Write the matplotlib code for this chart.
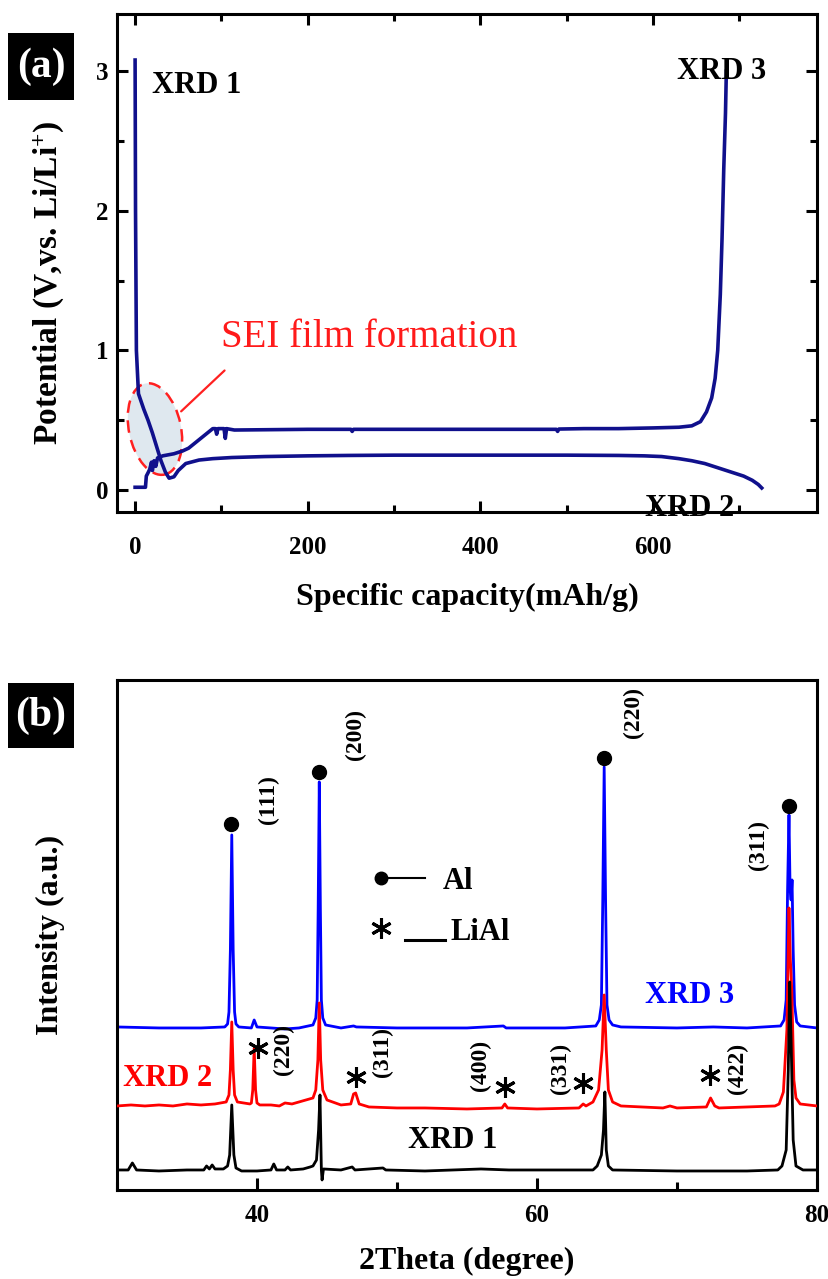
import matplotlib
matplotlib.use('Agg')
import matplotlib.pyplot as plt
from matplotlib.patches import Ellipse, Rectangle
from matplotlib.transforms import ScaledTranslation
from matplotlib.ticker import MultipleLocator

plt.rcParams['font.family'] = ['Liberation Serif', 'DejaVu Serif']
plt.rcParams['font.weight'] = 'bold'
plt.rcParams['mathtext.fontset'] = 'custom'
plt.rcParams['mathtext.rm'] = 'Liberation Serif:bold'
plt.rcParams['mathtext.default'] = 'rm'

# ---------------- Panel (a) data: voltage profile ----------------
discharge_cap = [0, 0.5, 1.5, 3.9, 10, 15, 20, 25, 30, 35, 39.4, 45, 50, 58.7, 74, 90, 112,
                 150, 200, 248, 300, 400, 500, 560, 590, 610, 630, 645, 660, 675, 690,
                 705, 715, 722, 726]
discharge_v = [3.08, 2.0, 1.0, 0.69, 0.58, 0.50, 0.41, 0.31, 0.21, 0.13, 0.085, 0.095, 0.14,
               0.19, 0.215, 0.225, 0.233, 0.24, 0.245, 0.248, 0.25, 0.25, 0.25, 0.248, 0.245,
               0.24, 0.225, 0.21, 0.19, 0.16, 0.13, 0.10, 0.07, 0.04, 0.015]

charge_cap = [0, 12, 13, 15.5, 17, 19, 20, 22, 24, 26, 32, 45, 55, 62, 70, 82, 90, 93, 94.5,
              96, 103, 104.5, 106, 115, 200, 250, 251.5, 253, 400, 488, 489.5, 491, 520, 560,
              600, 630, 645, 655, 662, 668, 672, 675, 678, 680, 682, 684, 685]
charge_v = [0.02, 0.02, 0.10, 0.13, 0.15, 0.20, 0.14, 0.21, 0.17, 0.23, 0.245, 0.26, 0.28,
            0.30, 0.34, 0.40, 0.44, 0.44, 0.40, 0.44, 0.44, 0.37, 0.44, 0.43, 0.435, 0.435,
            0.42, 0.435, 0.435, 0.435, 0.42, 0.437, 0.44, 0.44, 0.445, 0.45, 0.46, 0.49, 0.56,
            0.66, 0.80, 1.00, 1.40, 1.80, 2.30, 2.70, 3.00]

# ---------------- Panel (b) data: XRD patterns (2theta, intensity a.u.) ----------------
xrd1_2theta = [30.0, 30.8, 31.1, 31.4, 33.0, 35.0, 36.2, 36.4, 36.6, 36.8, 37.0, 37.6, 37.9,
               38.05, 38.2, 38.35, 38.5, 38.9, 40.0, 41.0, 41.2, 41.4, 42.0, 42.2, 42.4, 43.3,
               43.8, 44.0, 44.25, 44.4, 44.5, 44.6, 44.65, 44.75, 46.0, 46.8, 47.0, 49.0, 49.2,
               52.0, 56.0, 58.0, 62.0, 64.0, 64.3, 64.6, 64.75, 64.85, 64.95, 65.1, 65.4, 70.0,
               75.0, 77.2, 77.5, 77.8, 77.95, 78.05, 78.15, 78.3, 78.5, 79.0, 80.0]
xrd1_int = [20, 20, 27, 20, 19, 20, 20, 24, 21, 25, 21, 21, 24,
            35, 85, 35, 22, 19, 19, 20, 26, 20, 20, 23, 20, 21,
            23, 24, 30, 60, 95, 20, 10, 21, 20, 23, 20, 22, 20,
            19, 21, 20, 20, 20, 24, 35, 60, 98, 40, 24, 20, 19,
            19, 20, 24, 40, 120, 208, 150, 50, 24, 20, 20]

xrd2_2theta = [30.0, 31.0, 32.0, 33.0, 34.0, 35.0, 36.0, 37.0, 37.8, 38.0, 38.1, 38.2, 38.3,
               38.4, 38.6, 39.5, 39.6, 39.7, 39.8, 39.9, 40.0, 40.2, 41.0, 41.6, 42.0, 42.5,
               43.0, 43.5, 44.0, 44.2, 44.35, 44.45, 44.55, 44.7, 45.0, 46.0, 46.7, 46.9, 47.05,
               47.3, 48.0, 50.0, 52.0, 55.0, 57.5, 57.7, 57.9, 60.0, 63.0, 63.3, 63.5, 64.0,
               64.4, 64.65, 64.8, 64.95, 65.1, 65.4, 66.0, 69.0, 69.5, 70.0, 72.1, 72.4, 72.7,
               73.0, 77.0, 77.3, 77.6, 77.85, 78.0, 78.1, 78.2, 78.35, 78.5, 78.8, 80.0]
xrd2_int = [84, 85, 84, 85, 84, 86, 85, 86, 88, 95, 120, 168, 120,
            95, 88, 86, 87, 100, 142, 100, 87, 85, 85, 84, 87, 86,
            88, 90, 92, 100, 130, 187, 130, 100, 90, 85, 86, 96, 97,
            86, 83, 82, 82, 81, 82, 86, 82, 81, 82, 86, 84, 88,
            100, 140, 195, 140, 100, 88, 84, 82, 84, 82, 83, 92, 84,
            82, 84, 86, 98, 160, 282, 230, 200, 110, 92, 86, 84]

xrd3_2theta = [30.0, 33.0, 36.0, 37.7, 37.9, 38.0, 38.1, 38.2, 38.3, 38.4, 38.5, 38.7, 39.6,
               39.8, 40.0, 41.0, 42.0, 43.0, 44.0, 44.2, 44.3, 44.37, 44.45, 44.53, 44.6, 44.7,
               44.9, 46.0, 46.9, 47.1, 50.0, 55.0, 57.6, 57.8, 62.0, 64.2, 64.45, 64.6, 64.7,
               64.8, 64.9, 65.0, 65.15, 65.4, 66.0, 70.0, 72.6, 75.0, 77.4, 77.65, 77.8, 77.9,
               78.0, 78.08, 78.15, 78.22, 78.3, 78.4, 78.55, 78.8, 80.0]
xrd3_int = [163, 162, 162, 163, 166, 178, 240, 355, 240, 178, 166, 163, 162,
            170, 163, 162, 161, 162, 165, 172, 190, 280, 408, 280, 190, 172,
            165, 162, 164, 163, 162, 162, 164, 162, 162, 164, 170, 185, 290,
            423, 290, 185, 170, 165, 163, 162, 163, 162, 164, 170, 190, 300,
            375, 300, 290, 310, 240, 185, 168, 164, 162]

al_peak_2theta = [38.15, 44.4, 64.8, 78.0]
al_marker_int = [366, 418, 432, 384]
al_hkl = ['(111)', '(200)', '(220)', '(311)']
al_hkl_x = [40.8, 47.0, 66.9, 75.8]
al_hkl_y = [390, 455, 477, 345]

lial_star_x = [40.07, 47.07, 57.71, 63.29, 72.36]
lial_star_y = [142, 113, 103, 107, 115]
lial_hkl = ['(220)', '(311)', '(400)', '(331)', '(422)']
lial_hkl_x = [41.86, 48.93, 55.93, 61.71, 74.29]
lial_hkl_y = [140, 138, 125, 122, 122]

# ---------------- Figure ----------------
fig = plt.figure(figsize=(8.29, 12.79), dpi=100)
axa = fig.add_axes([0.1411, 0.5997, 0.8444, 0.3894])
axb = fig.add_axes([0.1411, 0.0696, 0.8444, 0.3988])

navy = '#10108c'
axa.plot(discharge_cap, discharge_v, color=navy, lw=2.6, zorder=3, solid_joinstyle='round')
axa.plot(charge_cap, charge_v, color=navy, lw=2.6, zorder=3, solid_joinstyle='round')
axa.set_xlim(-21, 790)
axa.set_ylim(-0.157, 3.41)
axa.xaxis.set_major_locator(MultipleLocator(200))
axa.xaxis.set_minor_locator(MultipleLocator(100))
axa.yaxis.set_major_locator(MultipleLocator(1))
axa.yaxis.set_minor_locator(MultipleLocator(0.5))
axa.tick_params(which='both', direction='in', top=True, right=True, width=2.2,
                labelsize=18)
axa.tick_params(which='major', length=8)
axa.tick_params(which='minor', length=5)
axa.tick_params(axis='x', pad=17)
axa.tick_params(axis='y', pad=6)
for s in axa.spines.values():
    s.set_linewidth(2.2)

axa.set_xlabel('Specific capacity(mAh/g)', fontsize=23, fontweight='bold', va='center')
axa.xaxis.set_label_coords(0.5, -0.172)
axa.set_ylabel('Potential (V,vs. Li/Li$^{+}$)', fontsize=24, fontweight='bold',
               va='center', ha='center')
axa.yaxis.set_label_coords(-0.098, 0.46)

axa.text(20, 2.9, 'XRD 1', fontsize=22, fontweight='bold', va='center', ha='left')
axa.text(628, 3.0, 'XRD 3', fontsize=22, fontweight='bold', va='center', ha='left')
axa.text(591, -0.13, 'XRD 2', fontsize=22, fontweight='bold', va='center', ha='left')
axa.text(100, 1.09, 'SEI film formation', fontsize=28, fontweight='normal', color='#ff1a1a',
         va='center', ha='left')

ell = Ellipse((0, 0), 0.52, 0.93, angle=12, facecolor='#dfe8ef', edgecolor='#ff2020',
              lw=1.8, ls=(0, (5, 3)), zorder=2,
              transform=fig.dpi_scale_trans + ScaledTranslation(23, 0.437, axa.transData))
axa.add_artist(ell)
axa.annotate('', xy=(51, 0.55), xytext=(106, 0.87),
             arrowprops=dict(arrowstyle='-', color='#ff2020', lw=1.6))

# Panel (b)
axb.plot(xrd3_2theta, xrd3_int, color='#0000ff', lw=2.0, zorder=2)
axb.plot(xrd2_2theta, xrd2_int, color='#ff0000', lw=2.0, zorder=3)
axb.plot(xrd1_2theta, xrd1_int, color='black', lw=2.0, zorder=4)
axb.plot(al_peak_2theta, al_marker_int, 'o', color='black', ms=10, zorder=5)
for x, y, t in zip(al_hkl_x, al_hkl_y, al_hkl):
    axb.text(x, y, t, rotation=90, fontsize=17, fontweight='bold', ha='center', va='center')
axb.plot(lial_star_x, lial_star_y, ls='none', marker=(6, 2, 0), color='black', ms=15,
         mew=2.2, zorder=5)
for x, y, t in zip(lial_hkl_x, lial_hkl_y, lial_hkl):
    axb.text(x, y, t, rotation=90, fontsize=17, fontweight='bold', ha='center', va='center')

# key
axb.plot([48.86], [312], 'o', color='black', ms=9)
axb.plot([49.36, 52.0], [312, 312], color='black', lw=1.5)
axb.text(53.3, 308, 'Al', fontsize=22, fontweight='bold', ha='left', va='center')
axb.plot([48.86], [262], ls='none', marker=(6, 2, 0), color='black', ms=15, mew=2.2)
axb.plot([50.57, 53.43], [250, 250], color='black', lw=2.2)
axb.text(53.8, 257, 'LiAl', fontsize=22, fontweight='bold', ha='left', va='center')

axb.text(67.7, 194, 'XRD 3', fontsize=22, fontweight='bold', color='#0000ff', ha='left', va='center')
axb.text(30.43, 111, 'XRD 2', fontsize=22, fontweight='bold', color='#ff0000', ha='left', va='center')
axb.text(50.8, 49, 'XRD 1', fontsize=22, fontweight='bold', color='black', ha='left', va='center')

axb.set_xlim(30, 80)
axb.set_ylim(0, 510)
axb.xaxis.set_major_locator(MultipleLocator(20))
axb.xaxis.set_minor_locator(MultipleLocator(10))
axb.set_yticks([])
axb.tick_params(which='both', direction='in', width=2.2, labelsize=18, pad=10)
axb.tick_params(which='major', length=9)
axb.tick_params(which='minor', length=6)
for s in axb.spines.values():
    s.set_linewidth(2.2)
axb.set_xlabel('2Theta (degree)', fontsize=23, fontweight='bold', va='center')
axb.xaxis.set_label_coords(0.5, -0.141)
axb.set_ylabel('Intensity (a.u.)', fontsize=23, fontweight='bold', va='center', ha='center')
axb.yaxis.set_label_coords(-0.095, 0.5)

# Panel letter boxes
for (yb, h, yc, lab) in [(0.92181, 0.05238, 0.948, '(a)'), (0.41517, 0.0508, 0.4406, '(b)')]:
    fig.add_artist(Rectangle((0.00965, yb), 0.0796, h, transform=fig.transFigure,
                             facecolor='black', edgecolor='none'))
    fig.text(0.04946, yc, lab, color='white', fontsize=30, fontweight='bold',
             ha='center', va='center')

fig.savefig('out.png', dpi=100)
